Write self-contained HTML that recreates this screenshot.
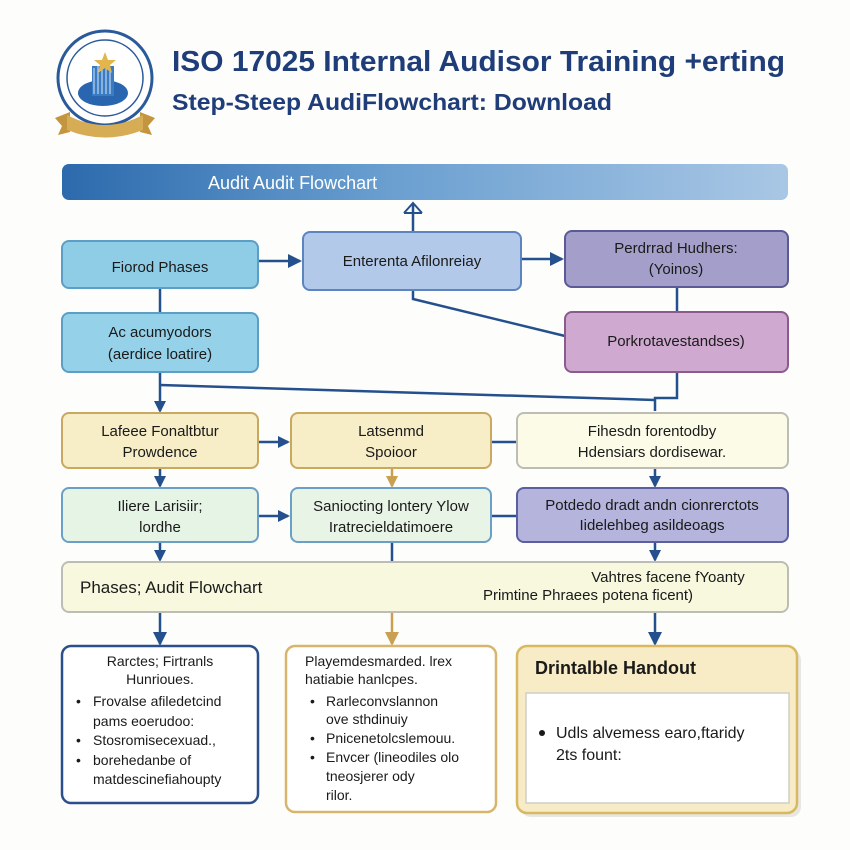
<!DOCTYPE html>
<html><head><meta charset="utf-8"><style>
html,body{margin:0;padding:0;background:#fdfdfc}
svg{display:block}
text{font-family:"Liberation Sans",sans-serif}
</style></head><body>
<svg width="850" height="850" viewBox="0 0 850 850" xmlns="http://www.w3.org/2000/svg">
<defs>
<linearGradient id="ban" x1="0" x2="1" y1="0" y2="0">
<stop offset="0" stop-color="#2c6aad"/><stop offset="0.45" stop-color="#6a9fd0"/><stop offset="1" stop-color="#a9c7e5"/>
</linearGradient>
<marker id="ab" markerWidth="12" markerHeight="12" refX="10" refY="6" orient="auto" markerUnits="userSpaceOnUse"><path d="M0,0 L12,6 L0,12 z" fill="#24508e"/></marker>
<marker id="ag" markerWidth="12" markerHeight="12" refX="10" refY="6" orient="auto" markerUnits="userSpaceOnUse"><path d="M0,0 L12,6 L0,12 z" fill="#c9a050"/></marker>
<marker id="bigb" markerWidth="14" markerHeight="14" refX="12" refY="7" orient="auto" markerUnits="userSpaceOnUse"><path d="M0,0 L14,7 L0,14 z" fill="#24508e"/></marker>
<marker id="bigg" markerWidth="14" markerHeight="14" refX="12" refY="7" orient="auto" markerUnits="userSpaceOnUse"><path d="M0,0 L14,7 L0,14 z" fill="#c9a050"/></marker>
</defs>
<rect width="850" height="850" fill="#fdfdfc"/>

<!-- logo -->
<circle cx="105" cy="78" r="47" fill="#fff" stroke="#2a5a9a" stroke-width="3"/>
<circle cx="105" cy="78" r="38" fill="none" stroke="#2a5a9a" stroke-width="1.5"/>
<ellipse cx="103" cy="93" rx="25" ry="13" fill="#2a66b0"/>
<rect x="92" y="66" width="22" height="30" fill="#3a7cc4"/>
<path d="M94 68v26M98 66v28M102 66v28M106 66v28M110 68v26" stroke="#d8e6f5" stroke-width="1"/>
<polygon points="105,52 108,60 116,60 110,65 112,73 105,68 98,73 100,65 94,60 102,60" fill="#e3b54a"/>
<path d="M55 118 L70 112 L70 132 L58 135 L62 126z" fill="#c2953e"/>
<path d="M155 118 L140 112 L140 132 L152 135 L148 126z" fill="#c2953e"/>
<path d="M67 115 Q105 135 143 115 L143 130 Q105 145 67 130z" fill="#d6ad55"/>

<!-- title -->
<text x="172" y="71" font-size="29" font-weight="bold" fill="#1f3d78" textLength="613" lengthAdjust="spacingAndGlyphs">ISO 17025 Internal Audisor Training +erting</text>
<text x="172" y="110" font-size="23" font-weight="bold" fill="#1f3d78" textLength="440" lengthAdjust="spacingAndGlyphs">Step-Steep AudiFlowchart: Download</text>

<!-- banner -->
<rect x="62" y="164" width="726" height="36" rx="7" fill="url(#ban)"/>
<text x="208" y="189" font-size="18" fill="#fff">Audit Audit Flowchart</text>

<!-- connectors -->
<g stroke="#24508e" stroke-width="2.5" fill="none">
<line x1="413" y1="232" x2="413" y2="204"/>
<path d="M404 213 L413 203 L422 213" stroke-width="2"/>
<line x1="404" y1="213" x2="422" y2="213" stroke-width="2"/>
<line x1="258" y1="261" x2="300" y2="261" marker-end="url(#bigb)"/>
<line x1="521" y1="259" x2="562" y2="259" marker-end="url(#bigb)"/>
<line x1="160" y1="288" x2="160" y2="313"/>
<line x1="677" y1="287" x2="677" y2="312"/>
<path d="M413 290 L413 299 L565 336"/>
<line x1="160" y1="372" x2="160" y2="411" marker-end="url(#ab)"/>
<path d="M160 385 L655 400"/>
<path d="M677 372 L677 398 L655 398 L655 411"/>
<line x1="258" y1="442" x2="288" y2="442" marker-end="url(#ab)"/>
<line x1="491" y1="442" x2="517" y2="442"/>
<line x1="160" y1="468" x2="160" y2="486" marker-end="url(#ab)"/>
<line x1="655" y1="468" x2="655" y2="486" marker-end="url(#ab)"/>
<line x1="258" y1="516" x2="288" y2="516" marker-end="url(#ab)"/>
<line x1="491" y1="516" x2="517" y2="516"/>
<line x1="160" y1="542" x2="160" y2="560" marker-end="url(#ab)"/>
<line x1="392" y1="542" x2="392" y2="562"/>
<line x1="655" y1="542" x2="655" y2="560" marker-end="url(#ab)"/>
<line x1="160" y1="612" x2="160" y2="644" marker-end="url(#bigb)"/>
<line x1="655" y1="612" x2="655" y2="644" marker-end="url(#bigb)"/>
</g>
<line x1="392" y1="468" x2="392" y2="486" stroke="#c9a050" stroke-width="2.5" marker-end="url(#ag)"/>
<line x1="392" y1="612" x2="392" y2="644" stroke="#c9a050" stroke-width="2.5" marker-end="url(#bigg)"/>

<!-- row 1 -->
<rect x="62" y="241" width="196" height="47" rx="7" fill="#8fcde6" stroke="#5b9fc6" stroke-width="2"/>
<text x="160" y="272" font-size="15" text-anchor="middle" fill="#1a1a1a">Fiorod Phases</text>
<rect x="303" y="232" width="218" height="58" rx="7" fill="#b2c9ea" stroke="#5c85c0" stroke-width="2"/>
<text x="412" y="266" font-size="15" text-anchor="middle" fill="#1a1a1a">Enterenta Afilonreiay</text>
<rect x="565" y="231" width="223" height="56" rx="7" fill="#a49fca" stroke="#5b5a96" stroke-width="2"/>
<text x="676" y="253" font-size="15" text-anchor="middle" fill="#1a1a1a">Perdrrad Hudhers:</text>
<text x="676" y="274" font-size="15" text-anchor="middle" fill="#1a1a1a">(Yoinos)</text>

<!-- row 2 -->
<rect x="62" y="313" width="196" height="59" rx="7" fill="#95d1e9" stroke="#5b9fc6" stroke-width="2"/>
<text x="160" y="337" font-size="15" text-anchor="middle" fill="#1a1a1a">Ac acumyodors</text>
<text x="160" y="359" font-size="15" text-anchor="middle" fill="#1a1a1a">(aerdice loatire)</text>
<rect x="565" y="312" width="223" height="60" rx="7" fill="#d0a9d0" stroke="#8a5c8e" stroke-width="2"/>
<text x="676" y="346" font-size="15" text-anchor="middle" fill="#1a1a1a">Porkrotavestandses)</text>

<!-- row 3 -->
<rect x="62" y="413" width="196" height="55" rx="7" fill="#f7edc6" stroke="#c9a860" stroke-width="2"/>
<text x="160" y="436" font-size="15" text-anchor="middle" fill="#1a1a1a">Lafeee Fonaltbtur</text>
<text x="160" y="457" font-size="15" text-anchor="middle" fill="#1a1a1a">Prowdence</text>
<rect x="291" y="413" width="200" height="55" rx="7" fill="#f7edc6" stroke="#c9a860" stroke-width="2"/>
<text x="391" y="436" font-size="15" text-anchor="middle" fill="#1a1a1a">Latsenmd</text>
<text x="391" y="457" font-size="15" text-anchor="middle" fill="#1a1a1a">Spoioor</text>
<rect x="517" y="413" width="271" height="55" rx="7" fill="#fbfbe8" stroke="#bdbdb5" stroke-width="2"/>
<text x="652" y="436" font-size="15" text-anchor="middle" fill="#1a1a1a">Fihesdn forentodby</text>
<text x="652" y="457" font-size="15" text-anchor="middle" fill="#1a1a1a">Hdensiars dordisewar.</text>

<!-- row 4 -->
<rect x="62" y="488" width="196" height="54" rx="7" fill="#e6f4e6" stroke="#6aa0c8" stroke-width="2"/>
<text x="160" y="511" font-size="15" text-anchor="middle" fill="#1a1a1a">Iliere Larisiir;</text>
<text x="160" y="532" font-size="15" text-anchor="middle" fill="#1a1a1a">lordhe</text>
<rect x="291" y="488" width="200" height="54" rx="7" fill="#e8f4e6" stroke="#6aa0c8" stroke-width="2"/>
<text x="391" y="511" font-size="15" text-anchor="middle" fill="#1a1a1a">Saniocting lontery Ylow</text>
<text x="391" y="532" font-size="15" text-anchor="middle" fill="#1a1a1a">Iratrecieldatimoere</text>
<rect x="517" y="488" width="271" height="54" rx="7" fill="#b4b4dc" stroke="#5b5fa0" stroke-width="2"/>
<text x="652" y="510" font-size="15" text-anchor="middle" fill="#1a1a1a">Potdedo dradt andn cionrerctots</text>
<text x="652" y="530" font-size="15" text-anchor="middle" fill="#1a1a1a">Iidelehbeg asildeoags</text>

<!-- row 5 -->
<rect x="62" y="562" width="726" height="50" rx="7" fill="#f7f8de" stroke="#bdbdb5" stroke-width="2"/>
<text x="80" y="593" font-size="17" fill="#1a1a1a">Phases; Audit Flowchart</text>
<text x="668" y="582" font-size="15" text-anchor="middle" fill="#1a1a1a">Vahtres facene fYoanty</text>
<text x="588" y="600" font-size="15" text-anchor="middle" fill="#1a1a1a">Primtine Phraees potena ficent)</text>

<!-- bottom boxes -->
<rect x="62" y="646" width="196" height="157" rx="9" fill="#fff" stroke="#2a4f8a" stroke-width="2.5"/>
<g font-size="14" fill="#1a1a1a">
<text x="160" y="666" text-anchor="middle">Rarctes; Firtranls</text>
<text x="160" y="684" text-anchor="middle">Hunrioues.</text>
<text x="76" y="706">•</text><text x="93" y="706">Frovalse afiledetcind</text>
<text x="93" y="726">pams eoerudoo:</text>
<text x="76" y="745">•</text><text x="93" y="745">Stosromisecexuad.,</text>
<text x="76" y="765">•</text><text x="93" y="765">borehedanbe of</text>
<text x="93" y="784">matdescinefiahoupty</text>
</g>
<rect x="286" y="646" width="210" height="166" rx="9" fill="#fff" stroke="#d7b56c" stroke-width="2.5"/>
<g font-size="14" fill="#1a1a1a">
<text x="305" y="666">Playemdesmarded. lrex</text>
<text x="305" y="684">hatiabie hanlcpes.</text>
<text x="310" y="706">•</text><text x="326" y="706">Rarleconvslannon</text>
<text x="326" y="724">ove sthdinuiy</text>
<text x="310" y="743">•</text><text x="326" y="743">Pnicenetolcslemouu.</text>
<text x="310" y="762">•</text><text x="326" y="762">Envcer (lineodiles olo</text>
<text x="326" y="781">tneosjerer ody</text>
<text x="326" y="800">rilor.</text>
</g>
<rect x="521" y="650" width="280" height="167" rx="10" fill="#d8d8d4" opacity="0.6"/>
<rect x="517" y="646" width="280" height="167" rx="10" fill="#f7ecc5" stroke="#d8b860" stroke-width="2.5"/>
<text x="535" y="674" font-size="18" font-weight="bold" fill="#1a1a1a">Drintalble Handout</text>
<rect x="526" y="693" width="263" height="110" fill="#fff" stroke="#cfcfc8" stroke-width="1.5"/>
<circle cx="542" cy="733" r="3" fill="#1a1a1a"/>
<text x="556" y="738" font-size="16" fill="#1a1a1a">Udls alvemess earo,ftaridy</text>
<text x="556" y="760" font-size="16" fill="#1a1a1a">2ts fount:</text>
</svg>
</body></html>
